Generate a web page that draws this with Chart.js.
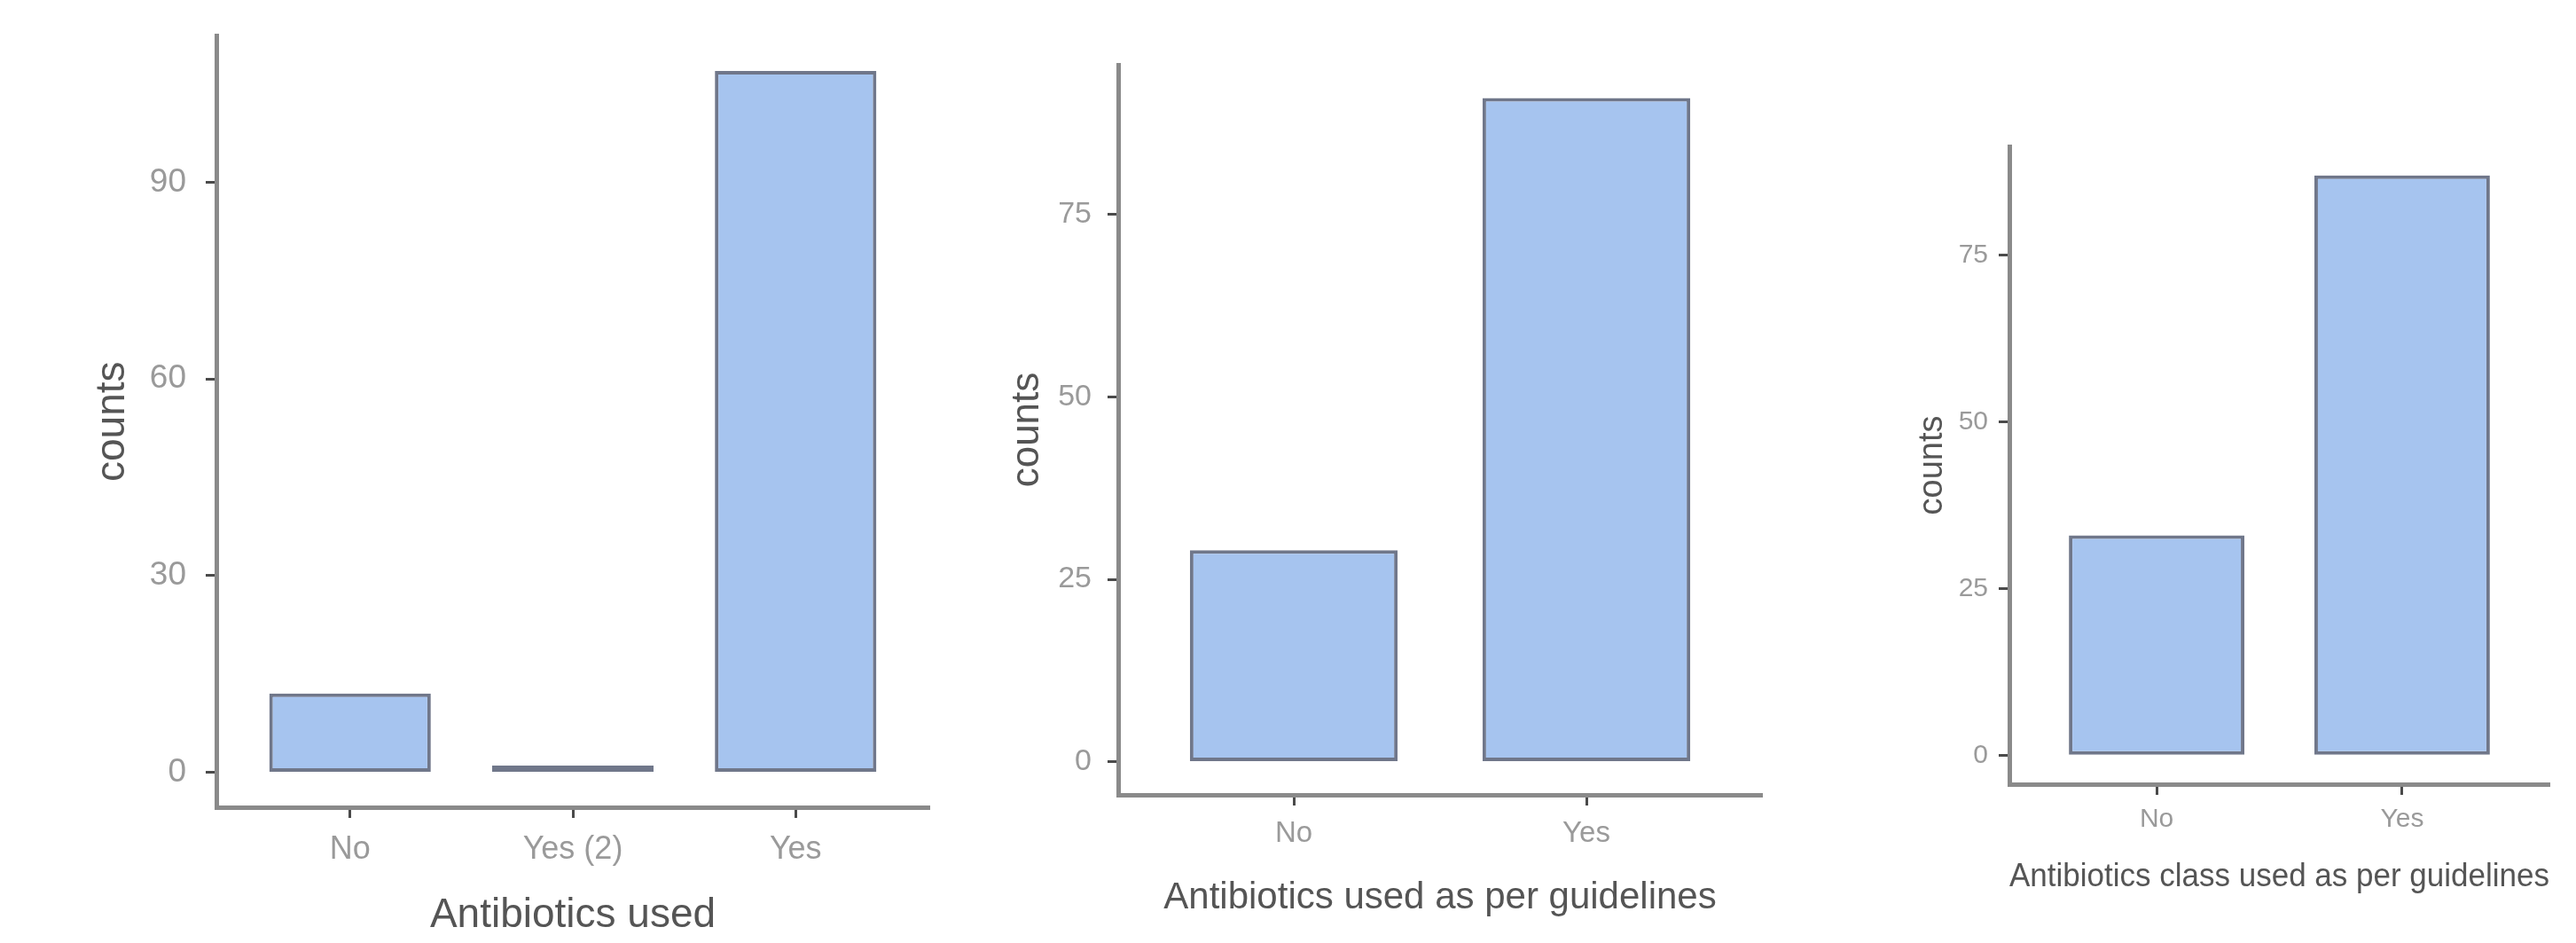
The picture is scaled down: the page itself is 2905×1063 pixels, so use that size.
<!DOCTYPE html>
<html>
<head>
<meta charset="utf-8">
<script src="https://cdn.jsdelivr.net/npm/chart.js@4/dist/chart.umd.min.js"></script>
<style>
  html, body { margin: 0; padding: 0; background: #ffffff; }
  body { width: 2905px; height: 1063px; position: relative; overflow: hidden; }
  .panel { position: absolute; top: 0; height: 1063px; }
</style>
</head>
<body>
<div class="panel" id="p1" style="left:0px;width:1100px"><canvas id="c1" width="1100" height="1063"></canvas></div>
<div class="panel" id="p2" style="left:1100px;width:900px"><canvas id="c2" width="900" height="1063"></canvas></div>
<div class="panel" id="p3" style="left:2000px;width:905px"><canvas id="c3" width="905" height="1063"></canvas></div>
<script>
// ---- data ----
const categories1 = ['No', 'Yes (2)', 'Yes'];
const counts1 = [12, 1, 107];
const yTicks1 = [0, 30, 60, 90];
const xTitle1 = 'Antibiotics used';

const categories2 = ['No', 'Yes'];
const counts2 = [29, 91];
const yTicks2 = [0, 25, 50, 75];
const xTitle2 = 'Antibiotics used as per guidelines';

const categories3 = ['No', 'Yes'];
const counts3 = [33, 87];
const yTicks3 = [0, 25, 50, 75];
const xTitle3 = 'Antibiotics class used as per guidelines';

const yTitle = 'counts';

// ---- styling / layout ----
const FONT = "'Liberation Sans', Arial, Helvetica, sans-serif";
const H = 1063;

function makePanel(canvasId, cats, counts, yTicks, xTitle, g) {
  const n = cats.length;
  const maxV = Math.max(...counts);
  const ctx = document.getElementById(canvasId);
  return new Chart(ctx, {
    type: 'bar',
    data: {
      datasets: [{
        data: counts.map((v, i) => ({ x: i, y: v })),
        backgroundColor: '#a6c4ef',
        borderColor: '#70778a',
        borderWidth: 4,
        borderSkipped: false,
        categoryPercentage: 1,
        barPercentage: g.barPct
      }]
    },
    options: {
      responsive: false,
      animation: false,
      devicePixelRatio: 1,
      layout: { padding: { left: 0, top: g.top, right: g.divW - (g.right - g.divL), bottom: 0 } },
      plugins: { legend: { display: false }, tooltip: { enabled: false } },
      scales: {
        x: {
          type: 'linear',
          offset: false,
          min: -0.6,
          max: n - 1 + 0.6,
          afterBuildTicks: (s) => { s.ticks = cats.map((c, i) => ({ value: i })); },
          afterFit: (s) => { s.height = H - g.bottom; },
          grid: { offset: false, drawOnChartArea: false, drawTicks: true, tickLength: 12, tickColor: '#4a4a4a', tickWidth: 3 },
          border: { display: true, color: '#8a8a8a', width: 5 },
          ticks: {
            autoSkip: false, maxRotation: 0, minRotation: 0,
            callback: (v) => cats[v],
            color: '#9a9a9a',
            padding: g.xTickPad,
            font: { family: FONT, size: g.xTickSize, lineHeight: 1 }
          },
          title: {
            display: true, text: xTitle, color: '#555555',
            font: { family: FONT, size: g.xTitleSize, lineHeight: 1 },
            padding: { top: 0, bottom: g.xTitlePadB }
          }
        },
        y: {
          type: 'linear',
          min: -0.05 * maxV,
          max: 1.05 * maxV,
          afterBuildTicks: (s) => { s.ticks = yTicks.map(v => ({ value: v })); },
          afterFit: (s) => { s.width = g.left - g.divL; },
          grid: { drawOnChartArea: false, drawTicks: true, tickLength: 12, tickColor: '#4a4a4a', tickWidth: 3 },
          border: { display: true, color: '#8a8a8a', width: 5 },
          ticks: {
            color: '#9a9a9a',
            padding: g.yTickPad,
            font: { family: FONT, size: g.yTickSize, lineHeight: 1 }
          },
          title: {
            display: true, text: yTitle, color: '#555555',
            font: { family: FONT, size: g.yTitleSize, lineHeight: 1 },
            padding: { top: g.yTitleX - g.divL - g.yTitleSize / 2, bottom: 0 }
          }
        }
      }
    }
  });
}

makePanel('c1', categories1, counts1, yTicks1, xTitle1, {
  divL: 0, divW: 1100, left: 244, right: 1048, top: 30, bottom: 910,
  barPct: 0.725, xTickPad: 18, xTickSize: 36, xTitleSize: 46, xTitlePadB: 8,
  yTickPad: 22, yTickSize: 37, yTitleSize: 46, yTitleX: 127
});
makePanel('c2', categories2, counts2, yTicks2, xTitle2, {
  divL: 1100, divW: 900, left: 1261, right: 1987, top: 73, bottom: 896,
  barPct: 0.71, xTickPad: 15, xTickSize: 33, xTitleSize: 42, xTitlePadB: 30,
  yTickPad: 18, yTickSize: 34, yTitleSize: 44, yTitleX: 1159
});
makePanel('c3', categories3, counts3, yTicks3, xTitle3, {
  divL: 2000, divW: 905, left: 2266, right: 2875, top: 165, bottom: 884,
  barPct: 0.715, xTickPad: 13, xTickSize: 30, xTitleSize: 36, xTitlePadB: 56,
  yTickPad: 12, yTickSize: 30, yTitleSize: 38, yTitleX: 2180
});
</script>
</body>
</html>
